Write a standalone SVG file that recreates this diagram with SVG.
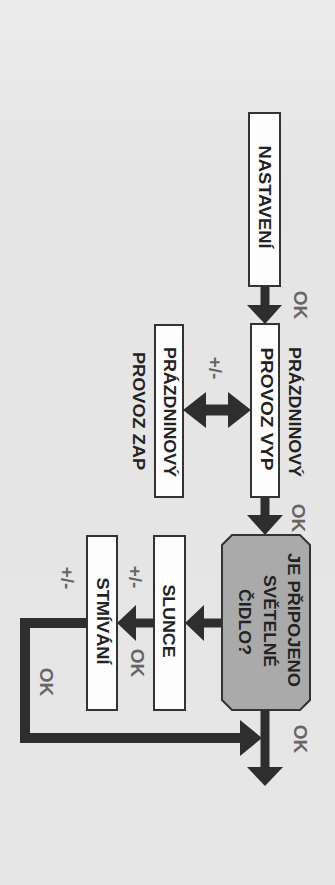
<svg xmlns="http://www.w3.org/2000/svg" width="335" height="885" viewBox="0 0 335 885">
<defs>
<linearGradient id="bg" x1="0" y1="0" x2="0" y2="1">
<stop offset="0" stop-color="#ececec"/>
<stop offset="0.2" stop-color="#e5e5e5"/>
<stop offset="1" stop-color="#e6e6e6"/>
</linearGradient>
</defs>
<style>
.box{fill:#fdfdfd;stroke:#333;stroke-width:2}
.dec{fill:#aaaaaa;stroke:#333;stroke-width:2}
.t{font-family:"Liberation Sans",Arial,sans-serif;font-weight:bold;font-size:16px;fill:#222;text-anchor:middle;dominant-baseline:central}
.g{font-family:"Liberation Sans",Arial,sans-serif;font-weight:bold;font-size:19px;fill:#666;text-anchor:middle;dominant-baseline:central}
.stem{stroke:#2e2e2e;stroke-width:9;fill:none}
.head{fill:#2e2e2e}
</style>
<rect x="0" y="0" width="335" height="885" fill="url(#bg)"/>
<g id="connectors">
<line class="stem" x1="265" y1="286" x2="265" y2="306"/>
<polygon class="head" points="247,305 282,305 265,324"/>
<line class="stem" x1="265" y1="497" x2="265" y2="516"/>
<polygon class="head" points="247,515 283,515 265,535"/>
<line class="stem" x1="200" y1="410" x2="235" y2="410" style="stroke-width:11"/>
<polygon class="head" points="183,410 206,392 206,428"/>
<polygon class="head" points="251,410 228,392 228,428"/>
<line class="stem" x1="222" y1="623" x2="200" y2="623"/>
<polygon class="head" points="185,623 204,605 204,641"/>
<line class="stem" x1="154" y1="623" x2="132" y2="623"/>
<polygon class="head" points="117,623 136,605 136,641"/>
<polyline class="stem" points="87,623 25,623 25,738 245,738" style="stroke-width:10"/>
<polygon class="head" points="262,738 240,720 240,756"/>
<line class="stem" x1="265" y1="710" x2="265" y2="769"/>
<polygon class="head" points="247,767 283,767 265,786"/>
</g>
<g id="nastaveni">
<rect class="box" x="249" y="113" width="31" height="173"/>
<text class="t" transform="translate(264,197) rotate(90)" textLength="103" lengthAdjust="spacingAndGlyphs">NASTAVENÍ</text>
</g>
<g id="provoz-vyp">
<rect class="box" x="251" y="324" width="28" height="173"/>
<text class="t" transform="translate(266,409) rotate(90)" textLength="123" lengthAdjust="spacingAndGlyphs">PROVOZ VYP</text>
<text class="t" transform="translate(294,412) rotate(90)" textLength="130" lengthAdjust="spacingAndGlyphs">PRÁZDNINOVÝ</text>
</g>
<g id="provoz-zap">
<rect class="box" x="155" y="325" width="28" height="172"/>
<text class="t" transform="translate(169,412) rotate(90)" textLength="130" lengthAdjust="spacingAndGlyphs">PRÁZDNINOVÝ</text>
<text class="t" transform="translate(138,411) rotate(90)" textLength="118" lengthAdjust="spacingAndGlyphs">PROVOZ ZAP</text>
</g>
<g id="cidlo">
<polygon class="dec" points="232,535 300,535 310,545 310,700 300,710 232,710 222,700 222,545"/>
<text class="t" transform="translate(293,620) rotate(90)" textLength="134" lengthAdjust="spacingAndGlyphs">JE PŘIPOJENO</text>
<text class="t" transform="translate(269,621) rotate(90)" textLength="92" lengthAdjust="spacingAndGlyphs">SVĚTELNÉ</text>
<text class="t" transform="translate(244,622) rotate(90)" textLength="66" lengthAdjust="spacingAndGlyphs">ČIDLO?</text>
</g>
<g id="slunce">
<rect class="box" x="154" y="536" width="31" height="174"/>
<text class="t" transform="translate(168,621) rotate(90)" textLength="73" lengthAdjust="spacingAndGlyphs">SLUNCE</text>
</g>
<g id="stmivani">
<rect class="box" x="87" y="536" width="30" height="174"/>
<text class="t" transform="translate(102,621) rotate(90)" textLength="87" lengthAdjust="spacingAndGlyphs">STMÍVÁNÍ</text>
</g>
<g id="labels">
<text class="g" transform="translate(300,305) rotate(90)">OK</text>
<text class="g" transform="translate(298,518) rotate(90)">OK</text>
<text class="g" transform="translate(300,739) rotate(90)">OK</text>
<text class="g" transform="translate(137,663) rotate(90)">OK</text>
<text class="g" transform="translate(46,682) rotate(90)">OK</text>
<text class="g" transform="translate(215,368) rotate(90)">+/-</text>
<text class="g" transform="translate(135,577) rotate(90)">+/-</text>
<text class="g" transform="translate(67,578) rotate(90)">+/-</text>
</g>
</svg>
